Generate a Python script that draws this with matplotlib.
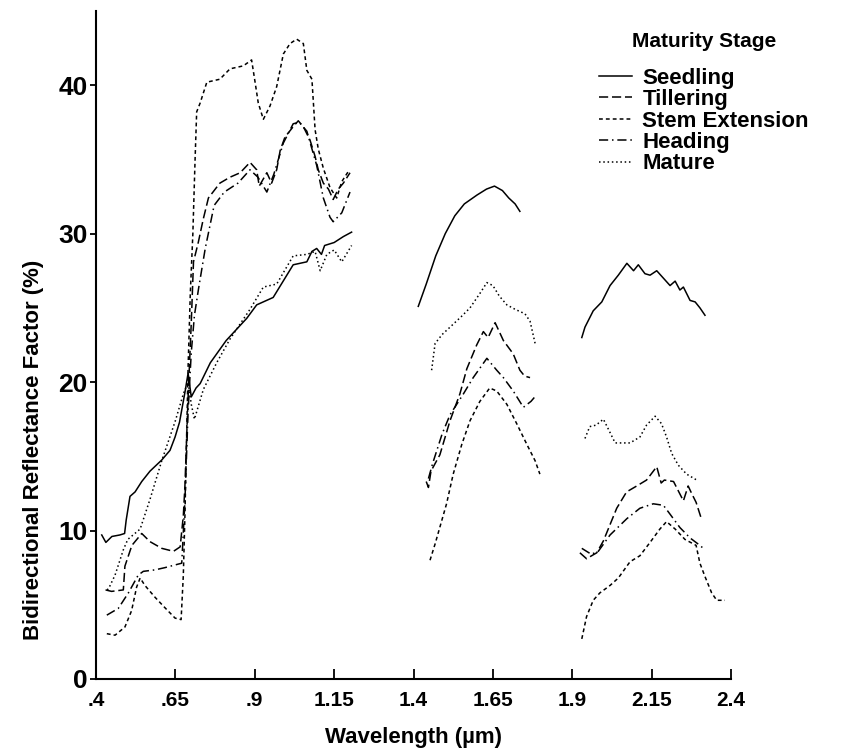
"""Bidirectional reflectance factor of wheat canopies by maturity stage."""

import matplotlib

matplotlib.use("Agg")
import matplotlib.pyplot as plt

nan = float("nan")

# wavelength (um) and reflectance (%), water-absorption gaps marked with nan
seedling_wl = [0.418, 0.431, 0.45, 0.475, 0.49, 0.495, 0.507, 0.523, 0.544, 0.57, 0.607, 0.633,
               0.649, 0.663, 0.68, 0.69, 0.70, 0.715, 0.728, 0.76, 0.81, 0.875, 0.906, 0.958,
               1.021, 1.064, 1.08, 1.095, 1.11, 1.12, 1.15, 1.179, 1.205,
               nan,
               1.415, 1.44, 1.47, 1.5, 1.53, 1.56, 1.6, 1.63, 1.655, 1.68, 1.7, 1.72, 1.735,
               nan,
               1.93, 1.94, 1.966, 1.993, 2.019, 2.045, 2.072, 2.093, 2.108, 2.129, 2.145, 2.166,
               2.187, 2.208, 2.224, 2.239, 2.25, 2.271, 2.287, 2.302, 2.318]
seedling_r = [9.7, 9.2, 9.6, 9.7, 9.8, 10.7, 12.3, 12.6, 13.3, 14.0, 14.75, 15.4,
              16.3, 17.3, 19.3, 20.6, 19.0, 19.6, 19.9, 21.3, 22.8, 24.3, 25.2, 25.7,
              27.9, 28.1, 28.8, 29.0, 28.6, 29.2, 29.4, 29.8, 30.1,
              nan,
              25.1, 26.6, 28.5, 30.0, 31.2, 32.0, 32.6, 33.0, 33.2, 32.9, 32.4, 32.0, 31.5,
              nan,
              23.0, 23.7, 24.8, 25.4, 26.5, 27.2, 28.0, 27.5, 27.9, 27.3, 27.2, 27.5,
              27.0, 26.5, 26.8, 26.2, 26.4, 25.5, 25.4, 25.0, 24.5]

tillering_wl = [0.43, 0.449, 0.486, 0.491, 0.513, 0.544, 0.57, 0.607, 0.644, 0.665, 0.675, 0.68,
                0.69, 0.70, 0.707, 0.722, 0.738, 0.754, 0.79, 0.822, 0.854, 0.885, 0.906, 0.914,
                0.938, 0.953, 0.969, 0.98, 0.995, 1.021, 1.037, 1.053, 1.074, 1.09, 1.10, 1.116,
                1.132, 1.147, 1.163, 1.179, 1.2,
                nan,
                1.44, 1.447, 1.455, 1.483, 1.515, 1.546, 1.568, 1.599, 1.62, 1.635, 1.657, 1.67,
                1.683, 1.714, 1.735, 1.75, 1.767,
                nan,
                1.924, 1.945, 1.977, 1.998, 2.019, 2.04, 2.071, 2.103, 2.134, 2.166, 2.18, 2.19,
                2.219, 2.25, 2.265, 2.276, 2.29, 2.308]
tillering_r = [6.0, 5.9, 6.0, 7.6, 9.0, 9.8, 9.25, 8.8, 8.6, 8.9, 11.0, 13.0,
               19.0, 24.0, 28.1, 29.4, 31.0, 32.4, 33.4, 33.8, 34.1, 34.8, 34.3, 33.2,
               34.1, 33.4, 34.3, 35.6, 36.5, 37.2, 37.6, 37.2, 36.3, 35.2, 34.3, 33.4,
               33.0, 32.3, 33.0, 33.4, 34.1,
               nan,
               13.3, 12.9, 14.0, 15.1, 17.4, 19.2, 20.9, 22.5, 23.4, 23.0, 24.0, 23.4,
               22.8, 21.9, 20.8, 20.4, 20.3,
               nan,
               8.5, 8.1, 8.5, 9.3, 10.4, 11.5, 12.6, 13.0, 13.4, 14.3, 13.2, 13.4,
               13.3, 12.0, 13.0, 12.5, 11.9, 10.7]

stem_wl = [0.434, 0.46, 0.491, 0.512, 0.528, 0.539, 0.554, 0.586, 0.617, 0.649, 0.668, 0.675,
           0.68, 0.685, 0.69, 0.697, 0.705, 0.712, 0.717, 0.728, 0.749, 0.79, 0.822, 0.864,
           0.89, 0.901, 0.911, 0.927, 0.948, 0.969, 0.99, 1.011, 1.032, 1.053, 1.064, 1.08,
           1.09, 1.10, 1.116, 1.137, 1.158, 1.174, 1.195,
           nan,
           1.452, 1.468, 1.504, 1.525, 1.552, 1.578, 1.609, 1.64, 1.662, 1.694, 1.725, 1.757,
           1.783, 1.798,
           nan,
           1.93, 1.945, 1.966, 1.987, 2.019, 2.045, 2.082, 2.113, 2.145, 2.176, 2.197, 2.224,
           2.255, 2.29, 2.302, 2.318, 2.339, 2.355, 2.381]
stem_r = [3.05, 2.95, 3.5, 4.6, 6.2, 6.8, 6.3, 5.5, 4.8, 4.1, 4.0, 7.0,
          11.0, 16.0, 21.0, 26.0, 30.0, 35.0, 38.2, 38.8, 40.2, 40.4, 41.1, 41.3,
          41.7, 40.2, 38.8, 37.7, 38.6, 39.9, 42.1, 42.8, 43.1, 42.8, 41.0, 40.4,
          37.0, 35.7, 34.4, 33.1, 32.4, 33.5, 34.2,
          nan,
          8.0, 9.1, 11.8, 13.8, 15.8, 17.4, 18.7, 19.6, 19.4, 18.5, 17.2, 15.8,
          14.7, 13.8,
          nan,
          2.7, 4.2, 5.3, 5.8, 6.3, 6.8, 7.9, 8.3, 9.2, 10.1, 10.6, 10.1,
          9.4, 9.0, 7.8, 6.9, 5.8, 5.3, 5.3]

heading_wl = [0.434, 0.47, 0.502, 0.533, 0.549, 0.586, 0.617, 0.67, 0.68, 0.69, 0.70, 0.71,
              0.723, 0.744, 0.772, 0.804, 0.847, 0.885, 0.91, 0.938, 0.96, 0.99, 1.021, 1.04,
              1.064, 1.095, 1.116, 1.137, 1.147, 1.174, 1.2,
              nan,
              1.447, 1.46, 1.49, 1.515, 1.557, 1.588, 1.631, 1.662, 1.683, 1.714, 1.746, 1.77,
              1.786,
              nan,
              1.93, 1.96, 1.982, 2.019, 2.072, 2.113, 2.155, 2.187, 2.208, 2.239, 2.271, 2.302,
              2.318]
heading_r = [4.3, 4.75, 5.8, 7.0, 7.25, 7.35, 7.5, 7.8, 12.0, 18.0, 22.0, 24.5,
             26.3, 29.0, 31.9, 32.8, 33.4, 34.3, 33.8, 32.8, 34.0, 36.1, 37.4, 37.5,
             36.9, 34.6, 32.4, 31.1, 30.8, 31.4, 32.8,
             nan,
             13.5, 14.5, 16.5, 17.8, 19.2, 20.3, 21.6, 20.8, 20.3, 19.4, 18.3, 18.7,
             19.1,
             nan,
             8.8, 8.4, 8.6, 9.7, 10.8, 11.5, 11.8, 11.7, 11.1, 10.2, 9.5, 9.0,
             8.7]

mature_wl = [0.435, 0.44, 0.46, 0.486, 0.5, 0.539, 0.57, 0.607, 0.65, 0.675, 0.69, 0.70,
             0.71, 0.738, 0.78, 0.822, 0.885, 0.927, 0.969, 1.021, 1.064, 1.09, 1.106, 1.127,
             1.15, 1.174, 1.205,
             nan,
             1.457, 1.468, 1.49, 1.515, 1.55, 1.578, 1.61, 1.631, 1.65, 1.67, 1.694, 1.72,
             1.751, 1.767, 1.783,
             nan,
             1.94, 1.955, 1.975, 1.998, 2.019, 2.035, 2.082, 2.113, 2.134, 2.161, 2.181, 2.197,
             2.213, 2.234, 2.26, 2.292]
mature_r = [6.0, 6.1, 7.0, 8.7, 9.4, 10.1, 12.1, 14.7, 17.4, 19.2, 20.0, 18.5,
            17.5, 19.5, 21.3, 22.9, 24.9, 26.4, 26.6, 28.5, 28.6, 28.8, 27.5, 28.6,
            28.9, 28.1, 29.2,
            nan,
            20.8, 22.6, 23.2, 23.7, 24.4, 25.0, 26.0, 26.7, 26.5, 25.8, 25.2, 24.9,
            24.6, 24.1, 22.6,
            nan,
            16.2, 17.0, 17.1, 17.5, 16.6, 15.9, 15.9, 16.3, 17.1, 17.7, 17.2, 16.3,
            15.2, 14.4, 13.8, 13.4]

stage_labels = ["Seedling", "Tillering", "Stem Extension", "Heading", "Mature"]
x_ticks = [0.4, 0.65, 0.9, 1.15, 1.4, 1.65, 1.9, 2.15, 2.4]
x_tick_labels = [".4", ".65", ".9", "1.15", "1.4", "1.65", "1.9", "2.15", "2.4"]
y_ticks = [0, 10, 20, 30, 40]

LINESTYLES = {
    "Seedling": "-",
    "Tillering": (0, (6, 2.5)),
    "Stem Extension": (0, (2.5, 2)),
    "Heading": (0, (6, 2.5, 1, 2.5)),
    "Mature": (0, (1, 1.8)),
}

plt.rcParams.update({"font.family": ["Liberation Sans", "DejaVu Sans"],
                     "font.weight": "bold", "axes.labelweight": "bold"})


def main() -> int:
    fig = plt.figure(figsize=(8.52, 7.54), dpi=100)
    ax = fig.add_axes([0.1127, 0.0995, 0.858 - 0.1127, 0.886])

    series = [(seedling_wl, seedling_r), (tillering_wl, tillering_r), (stem_wl, stem_r),
              (heading_wl, heading_r), (mature_wl, mature_r)]
    for (wl, r), label in zip(series, stage_labels):
        ax.plot(wl, r, color="black", linewidth=1.1, linestyle=LINESTYLES[label], label=label)

    ax.set_xlim(0.4, 2.4)
    ax.set_ylim(0, 45)
    for side in ("top", "right"):
        ax.spines[side].set_visible(False)
    for side in ("left", "bottom"):
        ax.spines[side].set_linewidth(1.5)

    ax.set_xticks(x_ticks)
    ax.set_xticklabels(x_tick_labels, fontsize=15)
    ax.set_yticks(y_ticks)
    ax.set_yticklabels([str(v) for v in y_ticks], fontsize=19)
    ax.tick_params(axis="x", direction="in", length=7, width=1.3, pad=9)
    ax.tick_params(axis="y", direction="out", length=4, width=1.3, pad=2)

    ax.set_xlabel("Wavelength (µm)", fontsize=16)
    ax.xaxis.set_label_coords(0.5, -0.072)
    ax.set_ylabel("Bidirectional Reflectance Factor (%)", fontsize=16)
    ax.yaxis.set_label_coords(-0.082, 0.343)

    leg = ax.legend(loc="upper left", bbox_to_anchor=(599 / 852, 1 - 32 / 754),
                    bbox_transform=fig.transFigure, frameon=False, fontsize=16,
                    title="Maturity Stage", title_fontsize=15, handlelength=1.5,
                    handletextpad=0.45, labelspacing=0.02, borderpad=0, borderaxespad=0)
    leg.get_title().set_fontweight("bold")
    leg._legend_box.sep = 12

    fig.savefig("out.png", dpi=100)
    return 0


if __name__ == "__main__":
    raise SystemExit(main())
